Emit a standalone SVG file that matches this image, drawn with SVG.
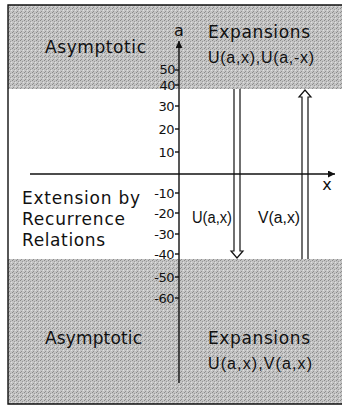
<svg xmlns="http://www.w3.org/2000/svg" width="342" height="410" viewBox="0 0 342 410">
<defs>
<pattern id="stip" width="4" height="4" patternUnits="userSpaceOnUse">
<rect width="4" height="4" fill="#c4c4c4"/>
<rect x="0" y="0" width="1" height="1" fill="#8a8a8a"/>
<rect x="2" y="1" width="1" height="1" fill="#9a9a9a"/>
<rect x="1" y="3" width="1" height="1" fill="#8f8f8f"/>
<rect x="3" y="2" width="1" height="1" fill="#e0e0e0"/>
</pattern>
<marker id="solidHead" viewBox="0 0 10 10" refX="10" refY="5" markerWidth="8" markerHeight="7" markerUnits="userSpaceOnUse" orient="auto">
<path d="M0,0 L10,5 L0,10 Z" fill="#111"/>
</marker>
</defs>
<style>
.t{font-family:"DejaVu Sans","Liberation Sans",sans-serif;fill:#111;}
.big{font-size:17px;}
.f{font-family:"Liberation Sans","DejaVu Sans",sans-serif;font-size:16px;fill:#111;}
.tick{font-size:13px;text-anchor:end;letter-spacing:-0.5px;}
.ln{stroke:#111;stroke-width:1.4;fill:none;}
.dbl{stroke:#111;stroke-width:1.2;fill:none;stroke-linejoin:miter;}
</style>
<rect width="342" height="410" fill="#fff"/>
<g id="regions">
<rect x="8" y="5" width="334" height="84" fill="url(#stip)"/>
<rect x="8" y="259" width="334" height="145" fill="url(#stip)"/>
<path class="ln" d="M342,5 H8 V404 H342"/>
</g>
<g id="axes">
<line class="ln" x1="179" y1="383" x2="179" y2="41" marker-end="url(#solidHead)"/>
<line class="ln" x1="30" y1="174" x2="335" y2="174" marker-end="url(#solidHead)"/>
<text class="t" x="179" y="36" font-size="16" text-anchor="middle">a</text>
<text class="t" x="327" y="190" font-size="16" text-anchor="middle">x</text>
<g class="ln">
<line x1="175" y1="70" x2="179" y2="70"/>
<line x1="175" y1="85" x2="179" y2="85"/>
<line x1="175" y1="106" x2="179" y2="106"/>
<line x1="175" y1="129" x2="179" y2="129"/>
<line x1="175" y1="152" x2="179" y2="152"/>
<line x1="175" y1="193" x2="179" y2="193"/>
<line x1="175" y1="213" x2="179" y2="213"/>
<line x1="175" y1="234" x2="179" y2="234"/>
<line x1="175" y1="254" x2="179" y2="254"/>
<line x1="175" y1="277" x2="179" y2="277"/>
<line x1="175" y1="298" x2="179" y2="298"/>
</g>
<text class="t tick" x="175" y="74">50</text>
<text class="t tick" x="175" y="90">40</text>
<text class="t tick" x="174" y="111">30</text>
<text class="t tick" x="174" y="134">20</text>
<text class="t tick" x="174" y="157">10</text>
<text class="t tick" x="174" y="198">-10</text>
<text class="t tick" x="174" y="218">-20</text>
<text class="t tick" x="174" y="239">-30</text>
<text class="t tick" x="174" y="259">-40</text>
<text class="t tick" x="174" y="282">-50</text>
<text class="t tick" x="174" y="303">-60</text>
</g>
<g id="top-left">
<text class="t big" x="45" y="53" textLength="101" lengthAdjust="spacing">Asymptotic</text>
</g>
<g id="top-right">
<text class="t big" x="208" y="38" textLength="102" lengthAdjust="spacing">Expansions</text>
<text class="f" x="208" y="63" textLength="106" lengthAdjust="spacing">U(a,x),U(a,-x)</text>
</g>
<g id="middle-left">
<text class="t big" x="22" y="204" textLength="118" lengthAdjust="spacing">Extension by</text>
<text class="t big" x="22" y="225" textLength="103" lengthAdjust="spacing">Recurrence</text>
<text class="t big" x="22" y="246" textLength="83" lengthAdjust="spacing">Relations</text>
</g>
<g id="label-U">
<text class="f" x="192" y="223" textLength="40" lengthAdjust="spacingAndGlyphs">U(a,x)</text>
</g>
<g id="label-V">
<text class="f" x="258" y="223" textLength="42" lengthAdjust="spacingAndGlyphs">V(a,x)</text>
</g>
<g id="bottom-left">
<text class="t big" x="45" y="344" textLength="97" lengthAdjust="spacing">Asymptotic</text>
</g>
<g id="bottom-right">
<text class="t big" x="208" y="344" textLength="102" lengthAdjust="spacing">Expansions</text>
<text class="f" x="208" y="369" textLength="104" lengthAdjust="spacing">U(a,x),V(a,x)</text>
</g>
<g id="connectors">
<path class="dbl" d="M234,89 V251 L231,251 L237,258 L243,251 L240,251 V89"/>
<path class="dbl" d="M302,259 V97 L299,97 L305,90 L311,97 L308,97 V259"/>
</g>
</svg>
